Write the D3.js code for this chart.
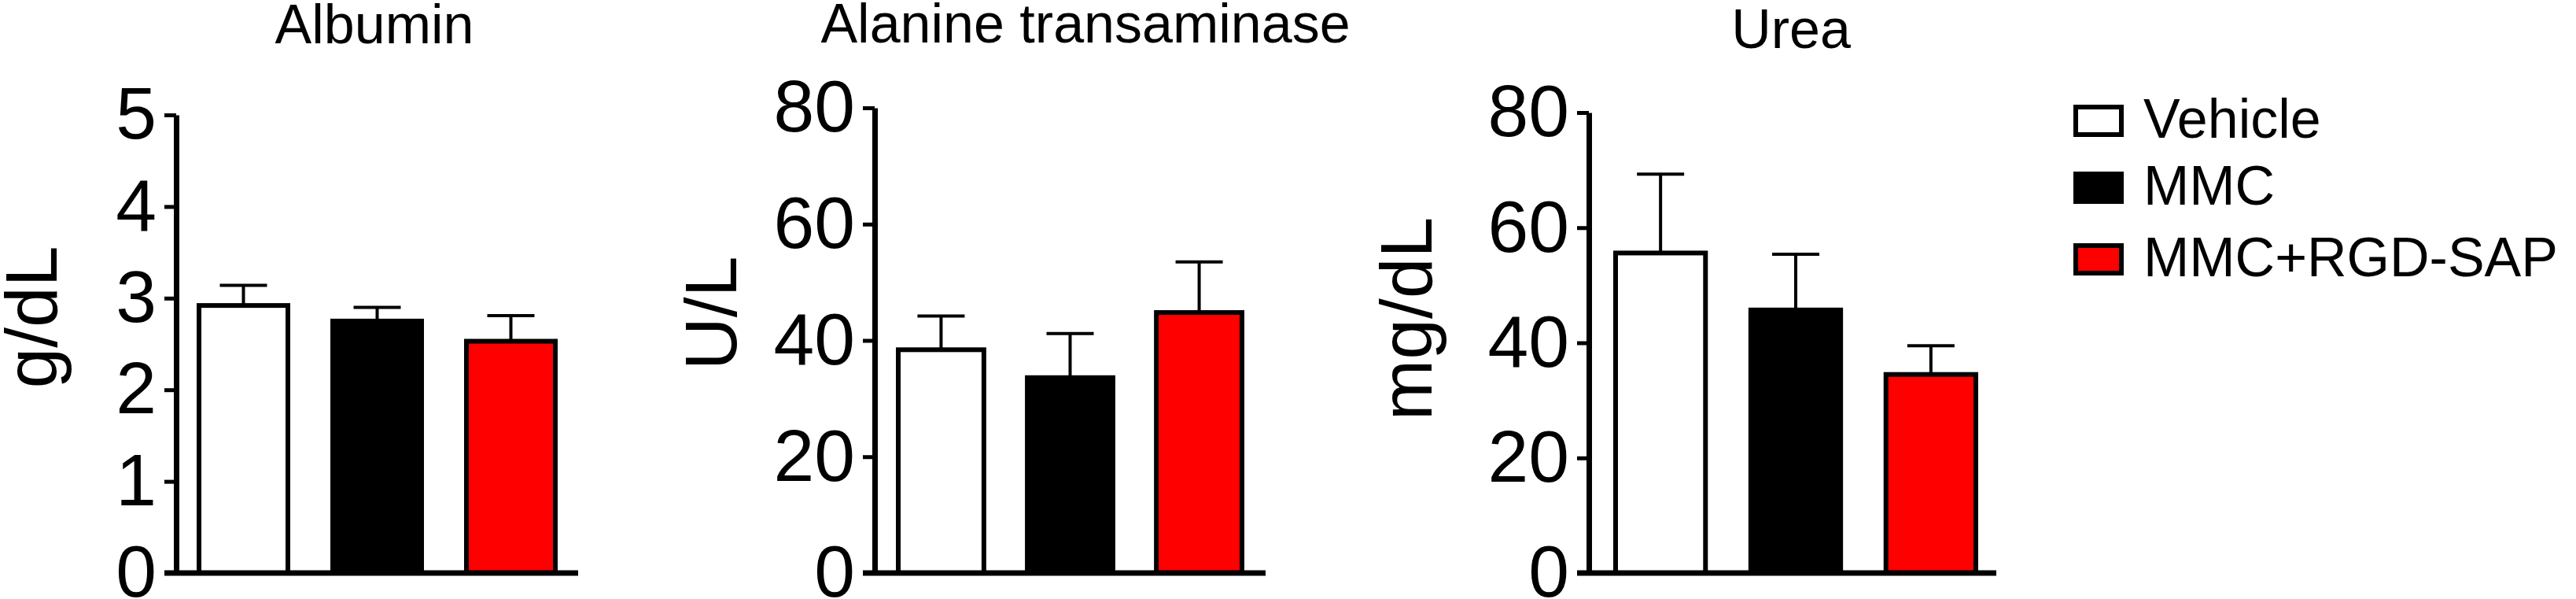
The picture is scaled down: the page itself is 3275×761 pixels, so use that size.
<!DOCTYPE html>
<html>
<head>
<meta charset="utf-8">
<script src="https://cdn.jsdelivr.net/npm/d3@7"></script>
<style>
  body { margin: 0; background: #fff; }
  svg { display: block; }
  text { font-family: "Liberation Sans", Arial, sans-serif; fill: #000; }
</style>
</head>
<body>
<div id="chart"></div>
<script>
// Werte (Mittelwert + SEM nach oben)
const groups = ["Vehicle", "MMC", "MMC+RGD-SAP"];
const groupFill = ["#ffffff", "#000000", "#ff0000"];

const panelTitles = ["Albumin", "Alanine transaminase", "Urea"];
const panelUnits = ["g/dL", "U/L", "mg/dL"];

const albuminMean = [2.92, 2.75, 2.53];
const albuminSem = [0.22, 0.15, 0.28];
const altMean = [38.4, 33.6, 44.8];
const altSem = [5.8, 7.6, 8.7];
const ureaMean = [55.6, 45.7, 34.5];
const ureaSem = [13.7, 9.7, 5.0];

const albuminTicks = [0, 1, 2, 3, 4, 5];
const altTicks = [0, 20, 40, 60, 80];
const ureaTicks = [0, 20, 40, 60, 80];

const W = 3275, H = 761;
const zeroY = 728;

// Layout pro Panel (Pixel)
const layout = [
  {axisX: 224, barL: 250, barR: 709, endX: 735, topY: 146, unitX: 72, unitY: 403, titleX: 476, titleY: 55},
  {axisX: 1112, barL: 1139, barR: 1582, endX: 1609, topY: 137, unitX: 936, unitY: 398, titleX: 1380, titleY: 54},
  {axisX: 2020, barL: 2051, barR: 2515, endX: 2538, topY: 143, unitX: 1820, unitY: 405, titleX: 2277, titleY: 61}
];

const panels = [
  {mean: albuminMean, sem: albuminSem, ticks: albuminTicks},
  {mean: altMean, sem: altSem, ticks: altTicks},
  {mean: ureaMean, sem: ureaSem, ticks: ureaTicks}
];

const svg = d3.select("#chart").append("svg")
  .attr("width", W)
  .attr("height", H);

panels.forEach(function(p, i) {
  const L = layout[i];
  const g = svg.append("g");

  const y = d3.scaleLinear()
    .domain([0, d3.max(p.ticks)])
    .range([zeroY, L.topY]);

  const x = d3.scaleBand()
    .domain(groups)
    .range([L.barL, L.barR])
    .paddingInner(0.3)
    .paddingOuter(0);

  // Titel
  g.append("text")
    .attr("x", L.titleX)
    .attr("y", L.titleY)
    .attr("text-anchor", "middle")
    .style("font-size", "70px")
    .text(panelTitles[i]);

  // Einheit (y-Achsenbeschriftung)
  g.append("text")
    .attr("transform", `translate(${L.unitX},${L.unitY}) rotate(-90)`)
    .attr("text-anchor", "middle")
    .style("font-size", "93px")
    .text(panelUnits[i]);

  // Balken
  const data = groups.map((d, j) => ({name: d, mean: p.mean[j], sem: p.sem[j], fill: groupFill[j]}));

  g.selectAll("rect.bar")
    .data(data)
    .enter().append("rect")
    .attr("class", "bar")
    .attr("x", d => x(d.name) + 3)
    .attr("width", x.bandwidth() - 6)
    .attr("y", d => y(d.mean))
    .attr("height", d => zeroY - y(d.mean))
    .attr("fill", d => d.fill)
    .attr("stroke", "#000")
    .attr("stroke-width", 6);

  // Fehlerbalken nur nach oben
  const err = g.selectAll("g.err")
    .data(data)
    .enter().append("g")
    .attr("class", "err")
    .attr("stroke", "#000")
    .attr("stroke-width", 4);

  err.append("line")
    .attr("x1", d => x(d.name) + x.bandwidth() / 2)
    .attr("x2", d => x(d.name) + x.bandwidth() / 2)
    .attr("y1", d => y(d.mean))
    .attr("y2", d => y(d.mean + d.sem));

  err.append("line")
    .attr("x1", d => x(d.name) + x.bandwidth() / 2 - 30)
    .attr("x2", d => x(d.name) + x.bandwidth() / 2 + 30)
    .attr("y1", d => y(d.mean + d.sem))
    .attr("y2", d => y(d.mean + d.sem));

  // y-Achse
  const yAxis = g.append("g")
    .attr("transform", `translate(${L.axisX},0)`)
    .call(d3.axisLeft(y).tickValues(p.ticks).tickFormat(d3.format("d"))
      .tickSize(15).tickSizeOuter(0).tickPadding(10));

  yAxis.select(".domain").attr("stroke-width", 7);
  yAxis.selectAll(".tick line").attr("stroke-width", 5);
  yAxis.selectAll(".tick text")
    .style("font-size", "93px")
    .attr("font-family", null);

  // x-Achse
  g.append("line")
    .attr("x1", L.axisX - 15)
    .attr("x2", L.endX)
    .attr("y1", zeroY)
    .attr("y2", zeroY)
    .attr("stroke", "#000")
    .attr("stroke-width", 7);
});

// Legende
const legend = svg.append("g")
  .selectAll("g")
  .data(groups)
  .enter().append("g")
  .attr("transform", (d, j) => `translate(2636,${[133, 218, 309][j]})`);

legend.append("rect")
  .attr("x", 3)
  .attr("y", 3)
  .attr("width", 58)
  .attr("height", 35)
  .attr("fill", (d, j) => groupFill[j])
  .attr("stroke", "#000")
  .attr("stroke-width", 6);

legend.append("text")
  .attr("x", 89)
  .attr("y", 42)
  .style("font-size", "70px")
  .text(d => d);
</script>
</body>
</html>
